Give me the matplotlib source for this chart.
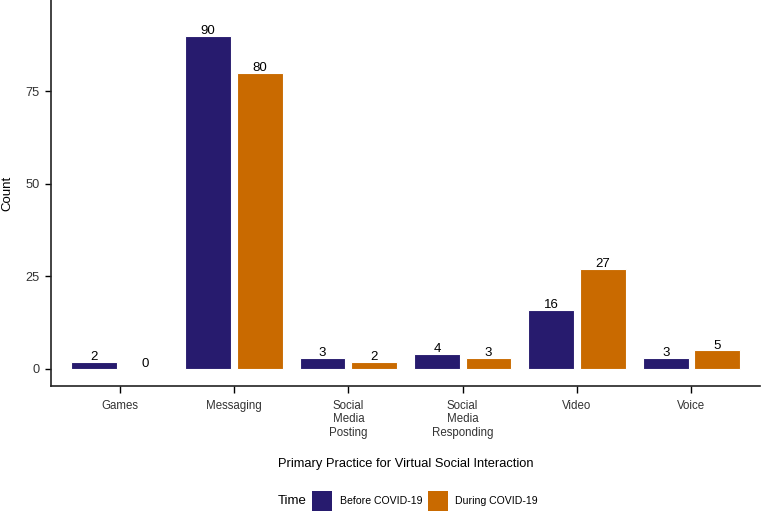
import matplotlib
matplotlib.use("Agg")
import matplotlib.pyplot as plt
import numpy as np
from matplotlib.patches import Rectangle

categories = ["Games", "Messaging", "Social\nMedia\nPosting", "Social\nMedia\nResponding", "Video", "Voice"]
before = [2, 90, 3, 4, 16, 3]
during = [0, 80, 2, 3, 27, 5]
series_names = ["Before COVID-19", "During COVID-19"]
colors = ["#271B6E", "#C96A00"]

plt.rcParams['font.family'] = ['Liberation Sans', 'DejaVu Sans']

W, H = 762, 511
fig = plt.figure(figsize=(W/100, H/100), dpi=100)
ax = fig.add_axes([51/W, 1-386/H, (760-51)/W, 386/H])

x = np.arange(1, len(categories)+1)
off = 0.225
w = 0.4
for vals, sign, c in [(before, -1, colors[0]), (during, 1, colors[1])]:
    ax.bar(x + sign*off, vals, width=w, color=c, edgecolor='white', linewidth=0.8)
    for xi, v in zip(x + sign*off, vals):
        ax.text(xi, v + 0.5, str(v), ha='center', va='baseline', fontsize=9.5, color='black')

ax.set_xlim(0.4, 6.6)
ax.set_ylim(-4.6, 99.7)
ax.set_yticks([0, 25, 50, 75])
ax.set_xticks(x)
ax.set_xticklabels(categories, fontsize=8.3, color='#333333', linespacing=1.15)
ax.tick_params(axis='y', labelsize=9.2, labelcolor='#333333', length=4, width=1, pad=4)
ax.tick_params(axis='x', length=5, width=1, pad=5)
for s in ['top', 'right']:
    ax.spines[s].set_visible(False)
for s in ['left', 'bottom']:
    ax.spines[s].set_linewidth(1.2)
    ax.spines[s].set_color('#222222')

ax.set_ylabel("Count", fontsize=9.5)
ax.yaxis.set_label_coords(-38/(760-51), 0.5)
ax.set_xlabel("Primary Practice for Virtual Social Interaction", fontsize=9.3, labelpad=14)

# legend drawn manually at bottom
fig.text(278/W, 1-501/H, "Time", fontsize=9.5, ha='left', va='center')
lx = [(312, 340), (428, 455)]
for (px, tx), name, c in zip(lx, series_names, colors):
    fig.patches.append(Rectangle((px/W, 1-511/H), 20/W, 20/H, transform=fig.transFigure,
                                 facecolor=c, edgecolor='none'))
    fig.text(tx/W, 1-501/H, name, fontsize=7.6, ha='left', va='center')

fig.savefig("out.png", dpi=100)
